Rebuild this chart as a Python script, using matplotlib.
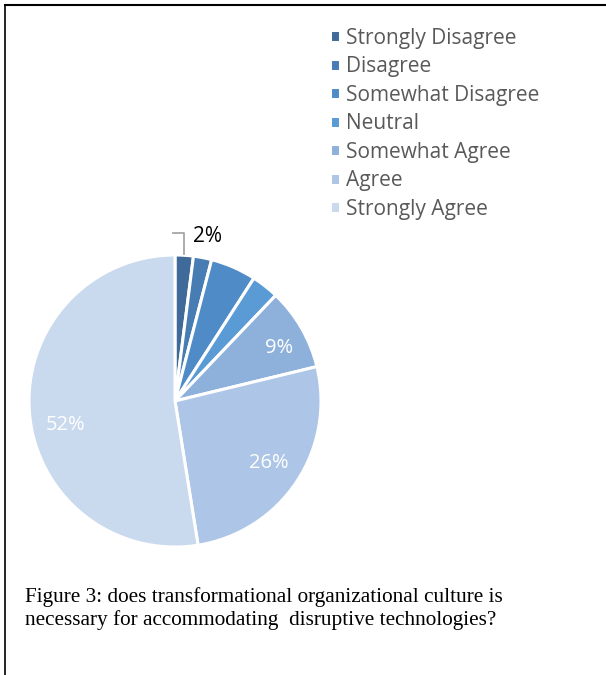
import numpy as np
import matplotlib
matplotlib.use('Agg')
import matplotlib.pyplot as plt
from matplotlib.lines import Line2D

# --- Dados ---
categories = ['Strongly Disagree', 'Disagree', 'Somewhat Disagree', 'Neutral',
              'Somewhat Agree', 'Agree', 'Strongly Agree']
percentages = [2, 2, 5, 3, 9, 26, 52]
show_label = [True, False, False, False, True, True, True]
colors = ['#3F6A99', '#487DB4', '#4F8BC6', '#5B9BD5', '#8EB1DC', '#ADC5E6', '#C9D9EE']
caption = ('Figure 3: does transformational organizational culture is\n'
           'necessary for accommodating  disruptive technologies?')

W, H = 606, 675
fig = plt.figure(figsize=(W / 100, H / 100), dpi=100)

# eixo quadrado para a pizza: centro (175, 401) px, raio 146 px
cx, cy, r = 175, 401, 146
ax = fig.add_axes([(cx - r) / W, (H - cy - r) / H, 2 * r / W, 2 * r / H])
wedges, _ = ax.pie(percentages, colors=colors, startangle=90, counterclock=False,
                   radius=1.0, wedgeprops=dict(edgecolor='white', linewidth=2.2))
ax.set_xlim(-1, 1)
ax.set_ylim(-1, 1)
ax.axis('off')

label_font = 'Open Sans'
# deslocamento angular de alguns rótulos (graus)
nudge = [0, 0, 0, 0, -3, 0, 8]
for i, w in enumerate(wedges):
    if not show_label[i]:
        continue
    mid = np.deg2rad((w.theta1 + w.theta2) / 2 + nudge[i])
    txt = f'{percentages[i]}%'
    if i == 0:
        # rótulo externo com linha guia
        ex, ey = np.cos(mid) * 1.0, np.sin(mid) * 1.0
        ax.add_line(Line2D([ex, ex, ex - 0.08], [ey + 0.01, ey + 0.15, ey + 0.15],
                           color='#A6A6A6', lw=1.3, clip_on=False))
        ax.text(ex + 0.06, ey + 0.13, txt, ha='left', va='center', fontsize=15,
                color='black', family=label_font)
    else:
        rr = {4: 0.8, 5: 0.77}.get(i, 0.77)
        ax.text(np.cos(mid) * rr, np.sin(mid) * rr, txt, ha='center', va='center',
                fontsize=14.5, color='white', family=label_font)

leg = fig.legend(wedges, categories, loc='upper left', bbox_to_anchor=(311 / W, 1 - 9 / H),
                 frameon=False, handlelength=0.5, handleheight=0.5, handletextpad=0.3,
                 labelspacing=0.36, prop={'family': label_font, 'size': 15})
for t in leg.get_texts():
    t.set_color('#595959')

fig.text(25 / W, 1 - 587 / H, caption, ha='left', va='top', fontsize=15.3,
         family='Liberation Serif', color='black', linespacing=1.2)

# moldura superior e esquerda
fig.add_artist(Line2D([5 / W, 1], [1 - 5 / H, 1 - 5 / H], color='black', lw=1.5))
fig.add_artist(Line2D([5 / W, 5 / W], [0, 1 - 5 / H], color='black', lw=1.2))

fig.savefig('out.png', dpi=100)
